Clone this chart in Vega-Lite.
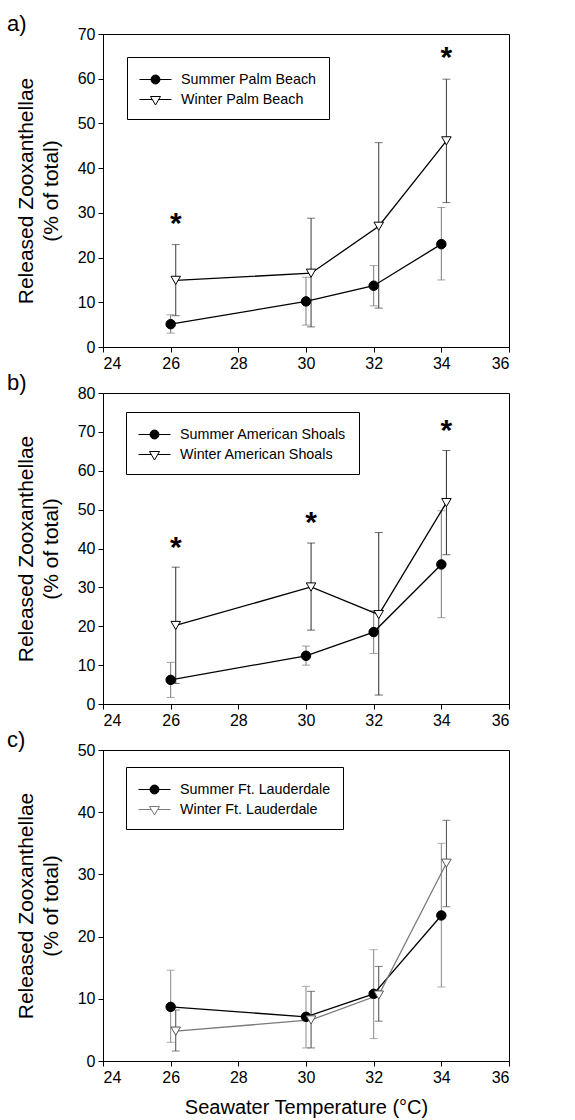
{
  "$schema": "https://vega.github.io/schema/vega-lite/v6.json",
  "padding": {"left": 6, "top": 12, "right": 5, "bottom": 2},
  "spacing": -1,
  "config": {
    "font": "Liberation Sans",
    "view": {"stroke": "black", "strokeWidth": 1},
    "axis": {"grid": false, "domainColor": "black", "tickColor": "black", "tickSize": 5, "labelColor": "black", "labelFontSize": 16, "labelFont": "Liberation Sans", "titleFont": "Liberation Sans", "titleFontSize": 21, "titleFontWeight": "normal", "titleColor": "black", "labelPadding": 3, "labelOverlap": false},
    "axisY": {"titlePadding": 16, "titleLineHeight": 25},
    "legend": {"orient": "none", "strokeColor": "black", "fillColor": "white", "padding": 12, "labelFontSize": 14.3, "labelFont": "Liberation Sans", "labelColor": "black", "labelLimit": 0, "symbolSize": 400, "symbolStrokeWidth": 1, "symbolOpacity": 1, "labelOffset": 21, "rowPadding": 2},
    "title": {"anchor": "start", "frame": "group", "fontSize": 22, "fontWeight": "normal", "dx": -96, "color": "black", "offset": -10, "font": "Liberation Sans"}
  },
  "datasets": {
    "pts": [
      {"panel": "a", "season": "Summer", "series": "Summer Palm Beach", "temp": 26, "mean": 5.1, "lo": 3.1, "hi": 7.2},
      {"panel": "a", "season": "Summer", "series": "Summer Palm Beach", "temp": 30, "mean": 10.2, "lo": 4.9, "hi": 15.6},
      {"panel": "a", "season": "Summer", "series": "Summer Palm Beach", "temp": 32, "mean": 13.7, "lo": 9.2, "hi": 18.2},
      {"panel": "a", "season": "Summer", "series": "Summer Palm Beach", "temp": 34, "mean": 23.0, "lo": 15.0, "hi": 31.2},
      {"panel": "a", "season": "Winter", "series": "Winter Palm Beach", "temp": 26.15, "mean": 14.9, "lo": 7.0, "hi": 22.9},
      {"panel": "a", "season": "Winter", "series": "Winter Palm Beach", "temp": 30.15, "mean": 16.5, "lo": 4.5, "hi": 28.8},
      {"panel": "a", "season": "Winter", "series": "Winter Palm Beach", "temp": 32.15, "mean": 27.0, "lo": 8.7, "hi": 45.7},
      {"panel": "a", "season": "Winter", "series": "Winter Palm Beach", "temp": 34.15, "mean": 46.1, "lo": 32.3, "hi": 59.9},
      {"panel": "b", "season": "Summer", "series": "Summer American Shoals", "temp": 26, "mean": 6.2, "lo": 1.7, "hi": 10.7},
      {"panel": "b", "season": "Summer", "series": "Summer American Shoals", "temp": 30, "mean": 12.4, "lo": 10.0, "hi": 14.9},
      {"panel": "b", "season": "Summer", "series": "Summer American Shoals", "temp": 32, "mean": 18.5, "lo": 13.0, "hi": 24.0},
      {"panel": "b", "season": "Summer", "series": "Summer American Shoals", "temp": 34, "mean": 35.9, "lo": 22.2, "hi": 49.7},
      {"panel": "b", "season": "Winter", "series": "Winter American Shoals", "temp": 26.15, "mean": 20.2, "lo": 5.3, "hi": 35.2},
      {"panel": "b", "season": "Winter", "series": "Winter American Shoals", "temp": 30.15, "mean": 30.1, "lo": 19.0, "hi": 41.4},
      {"panel": "b", "season": "Winter", "series": "Winter American Shoals", "temp": 32.15, "mean": 23.0, "lo": 2.3, "hi": 44.1},
      {"panel": "b", "season": "Winter", "series": "Winter American Shoals", "temp": 34.15, "mean": 51.8, "lo": 38.4, "hi": 65.2},
      {"panel": "c", "season": "Summer", "series": "Summer Ft. Lauderdale", "temp": 26, "mean": 8.7, "lo": 3.0, "hi": 14.6},
      {"panel": "c", "season": "Summer", "series": "Summer Ft. Lauderdale", "temp": 30, "mean": 7.1, "lo": 2.1, "hi": 12.0},
      {"panel": "c", "season": "Summer", "series": "Summer Ft. Lauderdale", "temp": 32, "mean": 10.8, "lo": 3.6, "hi": 17.9},
      {"panel": "c", "season": "Summer", "series": "Summer Ft. Lauderdale", "temp": 34, "mean": 23.4, "lo": 11.9, "hi": 35.0},
      {"panel": "c", "season": "Winter", "series": "Winter Ft. Lauderdale", "temp": 26.15, "mean": 4.8, "lo": 1.6, "hi": 8.2},
      {"panel": "c", "season": "Winter", "series": "Winter Ft. Lauderdale", "temp": 30.15, "mean": 6.6, "lo": 2.1, "hi": 11.2},
      {"panel": "c", "season": "Winter", "series": "Winter Ft. Lauderdale", "temp": 32.15, "mean": 10.6, "lo": 6.4, "hi": 15.2},
      {"panel": "c", "season": "Winter", "series": "Winter Ft. Lauderdale", "temp": 34.15, "mean": 31.8, "lo": 24.8, "hi": 38.7}
    ],
    "stars": [
      {"panel": "a", "temp": 26.15, "y": 28.9},
      {"panel": "a", "temp": 34.15, "y": 65.9},
      {"panel": "b", "temp": 26.15, "y": 41.8},
      {"panel": "b", "temp": 30.15, "y": 48.2},
      {"panel": "b", "temp": 34.15, "y": 71.8}
    ]
  },
  "resolve": {"scale": {"x": "independent", "y": "independent", "color": "independent", "stroke": "independent", "fill": "independent", "shape": "independent"}, "legend": {"fill": "independent", "shape": "independent", "stroke": "independent"}},
  "vconcat": [
    {
      "width": 406, "height": 313,
      "title": {"text": "a)"},
      "encoding": {"x": {"field": "temp", "type": "quantitative", "scale": {"domain": [24, 36], "nice": false, "zero": false}, "axis": {"values": [24, 26, 28, 30, 32, 34, 36], "title": null}}},
      "layer": [
        {"data": {"name": "pts"}, "transform": [{"filter": "datum.panel === 'a'"}], "mark": {"type": "rule", "strokeWidth": 1},
         "encoding": {"y": {"field": "lo", "type": "quantitative", "scale": {"domain": [0, 70], "nice": false}, "axis": {"values": [0, 10, 20, 30, 40, 50, 60, 70], "title": ["Released Zooxanthellae", "(% of total)"]}}, "y2": {"field": "hi"}, "color": {"field": "season", "type": "nominal", "scale": {"domain": ["Summer", "Winter"], "range": ["#7a7a7a", "#3a3a3a"]}, "legend": null}}},
        {"data": {"name": "pts"}, "transform": [{"filter": "datum.panel === 'a'"}], "mark": {"type": "tick", "orient": "horizontal", "size": 8, "thickness": 1},
         "encoding": {"y": {"field": "lo", "type": "quantitative", "axis": {"values": [0, 10, 20, 30, 40, 50, 60, 70], "title": ["Released Zooxanthellae", "(% of total)"]}}, "color": {"field": "season", "type": "nominal", "legend": null}}},
        {"data": {"name": "pts"}, "transform": [{"filter": "datum.panel === 'a'"}], "mark": {"type": "tick", "orient": "horizontal", "size": 8, "thickness": 1},
         "encoding": {"y": {"field": "hi", "type": "quantitative", "axis": {"values": [0, 10, 20, 30, 40, 50, 60, 70], "title": ["Released Zooxanthellae", "(% of total)"]}}, "color": {"field": "season", "type": "nominal", "legend": null}}},
        {"data": {"name": "pts"}, "transform": [{"filter": "datum.panel === 'a'"}], "mark": {"type": "line", "strokeWidth": 1.3},
         "encoding": {"y": {"field": "mean", "type": "quantitative", "axis": {"values": [0, 10, 20, 30, 40, 50, 60, 70], "title": ["Released Zooxanthellae", "(% of total)"]}}, "stroke": {"field": "series", "type": "nominal", "title": null, "scale": {"domain": ["Summer Palm Beach", "Winter Palm Beach"], "range": ["black", "black"]}, "legend": {"title": null, "legendX": 24, "legendY": 23}}}},
        {"data": {"name": "pts"}, "transform": [{"filter": "datum.panel === 'a' && datum.season === 'Summer'"}], "mark": {"type": "point", "filled": true, "shape": "circle", "size": 90, "fill": "black", "stroke": "black", "strokeWidth": 1, "opacity": 1},
         "encoding": {"y": {"field": "mean", "type": "quantitative", "axis": {"values": [0, 10, 20, 30, 40, 50, 60, 70], "title": ["Released Zooxanthellae", "(% of total)"]}}}},
        {"data": {"name": "pts"}, "transform": [{"filter": "datum.panel === 'a' && datum.season === 'Winter'"}], "mark": {"type": "point", "filled": true, "shape": "triangle-down", "size": 90, "fill": "white", "stroke": "black", "strokeWidth": 1, "opacity": 1},
         "encoding": {"y": {"field": "mean", "type": "quantitative", "axis": {"values": [0, 10, 20, 30, 40, 50, 60, 70], "title": ["Released Zooxanthellae", "(% of total)"]}}}},
        {"data": {"name": "pts"}, "transform": [{"filter": "datum.panel === 'none'"}], "mark": {"type": "point", "filled": true},
         "encoding": {"y": {"field": "mean", "type": "quantitative", "axis": {"values": [0, 10, 20, 30, 40, 50, 60, 70], "title": ["Released Zooxanthellae", "(% of total)"]}},
           "fill": {"field": "series", "type": "nominal", "title": null, "scale": {"domain": ["Summer Palm Beach", "Winter Palm Beach"], "range": ["black", "white"]}, "legend": {"title": null, "legendX": 24, "legendY": 23}},
           "shape": {"field": "series", "type": "nominal", "title": null, "scale": {"domain": ["Summer Palm Beach", "Winter Palm Beach"], "range": ["M-1,0H2.2M0.15,0A0.45,0.45 0 1,0 1.05,0A0.45,0.45 0 1,0 0.15,0Z", "M-1,0H0.276M0.924,0H2.2M0.1,-0.3L1.1,-0.3L0.6,0.55Z"]}, "legend": {"title": null, "legendX": 24, "legendY": 23}},
           "stroke": {"field": "series", "type": "nominal", "title": null, "legend": {"title": null, "legendX": 24, "legendY": 23}}}},
        {"data": {"name": "stars"}, "transform": [{"filter": "datum.panel === 'a'"}], "mark": {"type": "text", "text": "*", "fontSize": 30, "fontWeight": "bold", "baseline": "middle", "dy": 6, "color": "black"},
         "encoding": {"y": {"field": "y", "type": "quantitative", "axis": {"values": [0, 10, 20, 30, 40, 50, 60, 70], "title": ["Released Zooxanthellae", "(% of total)"]}}}}
      ]
    },
    {
      "width": 406, "height": 311,
      "title": {"text": "b)"},
      "encoding": {"x": {"field": "temp", "type": "quantitative", "scale": {"domain": [24, 36], "nice": false, "zero": false}, "axis": {"values": [24, 26, 28, 30, 32, 34, 36], "title": null}}},
      "layer": [
        {"data": {"name": "pts"}, "transform": [{"filter": "datum.panel === 'b'"}], "mark": {"type": "rule", "strokeWidth": 1},
         "encoding": {"y": {"field": "lo", "type": "quantitative", "scale": {"domain": [0, 80], "nice": false}, "axis": {"values": [0, 10, 20, 30, 40, 50, 60, 70, 80], "title": ["Released Zooxanthellae", "(% of total)"]}}, "y2": {"field": "hi"}, "color": {"field": "season", "type": "nominal", "scale": {"domain": ["Summer", "Winter"], "range": ["#7a7a7a", "#2a2a2a"]}, "legend": null}}},
        {"data": {"name": "pts"}, "transform": [{"filter": "datum.panel === 'b'"}], "mark": {"type": "tick", "orient": "horizontal", "size": 8, "thickness": 1},
         "encoding": {"y": {"field": "lo", "type": "quantitative", "axis": {"values": [0, 10, 20, 30, 40, 50, 60, 70, 80], "title": ["Released Zooxanthellae", "(% of total)"]}}, "color": {"field": "season", "type": "nominal", "legend": null}}},
        {"data": {"name": "pts"}, "transform": [{"filter": "datum.panel === 'b'"}], "mark": {"type": "tick", "orient": "horizontal", "size": 8, "thickness": 1},
         "encoding": {"y": {"field": "hi", "type": "quantitative", "axis": {"values": [0, 10, 20, 30, 40, 50, 60, 70, 80], "title": ["Released Zooxanthellae", "(% of total)"]}}, "color": {"field": "season", "type": "nominal", "legend": null}}},
        {"data": {"name": "pts"}, "transform": [{"filter": "datum.panel === 'b'"}], "mark": {"type": "line", "strokeWidth": 1.3},
         "encoding": {"y": {"field": "mean", "type": "quantitative", "axis": {"values": [0, 10, 20, 30, 40, 50, 60, 70, 80], "title": ["Released Zooxanthellae", "(% of total)"]}}, "stroke": {"field": "series", "type": "nominal", "title": null, "scale": {"domain": ["Summer American Shoals", "Winter American Shoals"], "range": ["black", "black"]}, "legend": {"title": null, "legendX": 23, "legendY": 19}}}},
        {"data": {"name": "pts"}, "transform": [{"filter": "datum.panel === 'b' && datum.season === 'Summer'"}], "mark": {"type": "point", "filled": true, "shape": "circle", "size": 90, "fill": "black", "stroke": "black", "strokeWidth": 1, "opacity": 1},
         "encoding": {"y": {"field": "mean", "type": "quantitative", "axis": {"values": [0, 10, 20, 30, 40, 50, 60, 70, 80], "title": ["Released Zooxanthellae", "(% of total)"]}}}},
        {"data": {"name": "pts"}, "transform": [{"filter": "datum.panel === 'b' && datum.season === 'Winter'"}], "mark": {"type": "point", "filled": true, "shape": "triangle-down", "size": 90, "fill": "white", "stroke": "black", "strokeWidth": 1, "opacity": 1},
         "encoding": {"y": {"field": "mean", "type": "quantitative", "axis": {"values": [0, 10, 20, 30, 40, 50, 60, 70, 80], "title": ["Released Zooxanthellae", "(% of total)"]}}}},
        {"data": {"name": "pts"}, "transform": [{"filter": "datum.panel === 'none'"}], "mark": {"type": "point", "filled": true},
         "encoding": {"y": {"field": "mean", "type": "quantitative", "axis": {"values": [0, 10, 20, 30, 40, 50, 60, 70, 80], "title": ["Released Zooxanthellae", "(% of total)"]}},
           "fill": {"field": "series", "type": "nominal", "title": null, "scale": {"domain": ["Summer American Shoals", "Winter American Shoals"], "range": ["black", "white"]}, "legend": {"title": null, "legendX": 23, "legendY": 19}},
           "shape": {"field": "series", "type": "nominal", "title": null, "scale": {"domain": ["Summer American Shoals", "Winter American Shoals"], "range": ["M-1,0H2.2M0.15,0A0.45,0.45 0 1,0 1.05,0A0.45,0.45 0 1,0 0.15,0Z", "M-1,0H0.276M0.924,0H2.2M0.1,-0.3L1.1,-0.3L0.6,0.55Z"]}, "legend": {"title": null, "legendX": 23, "legendY": 19}},
           "stroke": {"field": "series", "type": "nominal", "title": null, "legend": {"title": null, "legendX": 23, "legendY": 19}}}},
        {"data": {"name": "stars"}, "transform": [{"filter": "datum.panel === 'b'"}], "mark": {"type": "text", "text": "*", "fontSize": 30, "fontWeight": "bold", "baseline": "middle", "dy": 6, "color": "black"},
         "encoding": {"y": {"field": "y", "type": "quantitative", "axis": {"values": [0, 10, 20, 30, 40, 50, 60, 70, 80], "title": ["Released Zooxanthellae", "(% of total)"]}}}}
      ]
    },
    {
      "width": 406, "height": 311,
      "title": {"text": "c)"},
      "encoding": {"x": {"field": "temp", "type": "quantitative", "scale": {"domain": [24, 36], "nice": false, "zero": false}, "axis": {"values": [24, 26, 28, 30, 32, 34, 36], "title": "Seawater Temperature (°C)", "titleFontSize": 20, "titlePadding": 12}}},
      "layer": [
        {"data": {"name": "pts"}, "transform": [{"filter": "datum.panel === 'c'"}], "mark": {"type": "rule", "strokeWidth": 1},
         "encoding": {"y": {"field": "lo", "type": "quantitative", "scale": {"domain": [0, 50], "nice": false}, "axis": {"values": [0, 10, 20, 30, 40, 50], "title": ["Released Zooxanthellae", "(% of total)"]}}, "y2": {"field": "hi"}, "color": {"field": "season", "type": "nominal", "scale": {"domain": ["Summer", "Winter"], "range": ["#8a8a8a", "#4a4a4a"]}, "legend": null}}},
        {"data": {"name": "pts"}, "transform": [{"filter": "datum.panel === 'c'"}], "mark": {"type": "tick", "orient": "horizontal", "size": 8, "thickness": 1},
         "encoding": {"y": {"field": "lo", "type": "quantitative", "axis": {"values": [0, 10, 20, 30, 40, 50], "title": ["Released Zooxanthellae", "(% of total)"]}}, "color": {"field": "season", "type": "nominal", "legend": null}}},
        {"data": {"name": "pts"}, "transform": [{"filter": "datum.panel === 'c'"}], "mark": {"type": "tick", "orient": "horizontal", "size": 8, "thickness": 1},
         "encoding": {"y": {"field": "hi", "type": "quantitative", "axis": {"values": [0, 10, 20, 30, 40, 50], "title": ["Released Zooxanthellae", "(% of total)"]}}, "color": {"field": "season", "type": "nominal", "legend": null}}},
        {"data": {"name": "pts"}, "transform": [{"filter": "datum.panel === 'c'"}], "mark": {"type": "line", "strokeWidth": 1.3},
         "encoding": {"y": {"field": "mean", "type": "quantitative", "axis": {"values": [0, 10, 20, 30, 40, 50], "title": ["Released Zooxanthellae", "(% of total)"]}}, "stroke": {"field": "series", "type": "nominal", "title": null, "scale": {"domain": ["Summer Ft. Lauderdale", "Winter Ft. Lauderdale"], "range": ["black", "#7a7a7a"]}, "legend": {"title": null, "legendX": 23, "legendY": 17}}}},
        {"data": {"name": "pts"}, "transform": [{"filter": "datum.panel === 'c' && datum.season === 'Summer'"}], "mark": {"type": "point", "filled": true, "shape": "circle", "size": 90, "fill": "black", "stroke": "black", "strokeWidth": 1, "opacity": 1},
         "encoding": {"y": {"field": "mean", "type": "quantitative", "axis": {"values": [0, 10, 20, 30, 40, 50], "title": ["Released Zooxanthellae", "(% of total)"]}}}},
        {"data": {"name": "pts"}, "transform": [{"filter": "datum.panel === 'c' && datum.season === 'Winter'"}], "mark": {"type": "point", "filled": true, "shape": "triangle-down", "size": 90, "fill": "white", "stroke": "#555555", "strokeWidth": 1, "opacity": 1},
         "encoding": {"y": {"field": "mean", "type": "quantitative", "axis": {"values": [0, 10, 20, 30, 40, 50], "title": ["Released Zooxanthellae", "(% of total)"]}}}},
        {"data": {"name": "pts"}, "transform": [{"filter": "datum.panel === 'none'"}], "mark": {"type": "point", "filled": true},
         "encoding": {"y": {"field": "mean", "type": "quantitative", "axis": {"values": [0, 10, 20, 30, 40, 50], "title": ["Released Zooxanthellae", "(% of total)"]}},
           "fill": {"field": "series", "type": "nominal", "title": null, "scale": {"domain": ["Summer Ft. Lauderdale", "Winter Ft. Lauderdale"], "range": ["black", "white"]}, "legend": {"title": null, "legendX": 23, "legendY": 17}},
           "shape": {"field": "series", "type": "nominal", "title": null, "scale": {"domain": ["Summer Ft. Lauderdale", "Winter Ft. Lauderdale"], "range": ["M-1,0H2.2M0.15,0A0.45,0.45 0 1,0 1.05,0A0.45,0.45 0 1,0 0.15,0Z", "M-1,0H0.276M0.924,0H2.2M0.1,-0.3L1.1,-0.3L0.6,0.55Z"]}, "legend": {"title": null, "legendX": 23, "legendY": 17}},
           "stroke": {"field": "series", "type": "nominal", "title": null, "legend": {"title": null, "legendX": 23, "legendY": 17}}}}
      ]
    }
  ]
}
